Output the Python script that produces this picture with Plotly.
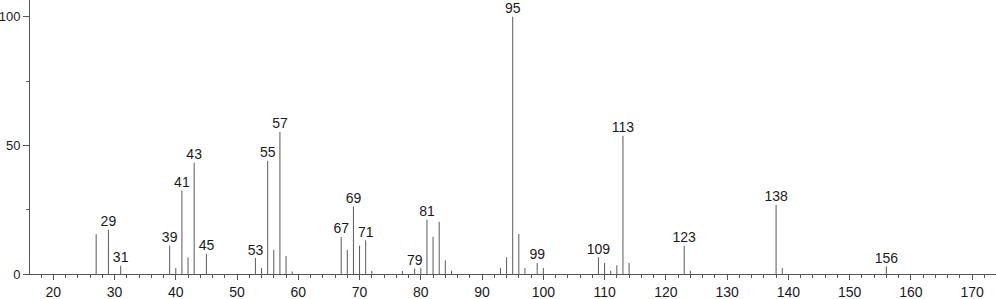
import plotly.graph_objects as go

mz = [27, 29, 31, 39, 40, 41, 42, 43, 45, 53, 54, 55, 56, 57, 58, 59,
      67, 68, 69, 70, 71, 72, 77, 79, 80, 81, 82, 83, 84, 85,
      93, 94, 95, 96, 97, 99, 100, 109, 110, 111, 112, 113, 114,
      123, 124, 138, 139, 156]
intensity = [15.5, 17.2, 3.2, 11.0, 2.3, 32.5, 6.5, 43.3, 7.9, 6.2, 2.3, 44.0, 9.4, 55.2, 7.0, 1.0,
             14.4, 9.4, 26.3, 11.0, 13.1, 1.2, 1.2, 2.2, 2.3, 21.1, 14.5, 20.3, 5.3, 1.3,
             2.3, 6.5, 100.0, 15.5, 2.3, 4.3, 2.3, 6.5, 4.3, 1.3, 3.4, 53.7, 4.3,
             11.0, 1.3, 26.9, 2.3, 3.0]
labeled = [29, 31, 39, 41, 43, 45, 53, 55, 57, 67, 69, 71, 79, 81, 95, 99,
           109, 113, 123, 138, 156]

FONT = "Liberation Sans, Arial, sans-serif"

xs, ys = [], []
for m, h in zip(mz, intensity):
    xs += [m, m, None]
    ys += [0, h, None]

lab_y = [intensity[mz.index(m)] for m in labeled]

fig = go.Figure()
fig.add_trace(go.Scatter(x=xs, y=ys, mode="lines",
                         line=dict(color="#5a5a5a", width=1),
                         hoverinfo="skip", showlegend=False))
fig.add_trace(go.Scatter(x=labeled, y=lab_y, mode="text",
                         text=[str(m) for m in labeled],
                         textposition="top center",
                         textfont=dict(family=FONT, size=14, color="#1a1a1a"),
                         showlegend=False, hoverinfo="skip", cliponaxis=False))

fig.update_layout(
    width=996, height=299,
    margin=dict(l=30, r=0, t=0, b=25),
    paper_bgcolor="white", plot_bgcolor="white",
    font=dict(family=FONT, size=14, color="#1a1a1a"),
    xaxis=dict(range=[16.2, 173.9], showgrid=False, zeroline=False,
               automargin=False,
               showline=True, linecolor="#555555", linewidth=1,
               tickmode="linear", tick0=0, dtick=10,
               ticks="outside", ticklen=5, tickcolor="#555555", tickwidth=1,
               minor=dict(dtick=2, tick0=0, ticks="outside", ticklen=3,
                          tickcolor="#555555", tickwidth=1, showgrid=False),
               tickfont=dict(family=FONT, size=14, color="#1a1a1a")),
    yaxis=dict(range=[0, 106.5], showgrid=False, zeroline=False,
               automargin=False,
               showline=True, linecolor="#555555", linewidth=1,
               tickvals=[0, 50, 100],
               ticks="outside", ticklen=6, tickcolor="#555555", tickwidth=1,
               minor=dict(tickvals=[25, 75], ticks="outside", ticklen=3,
                          tickcolor="#555555", tickwidth=1, showgrid=False),
               tickfont=dict(family=FONT, size=13, color="#1a1a1a")),
)

fig.write_html("out.html")
